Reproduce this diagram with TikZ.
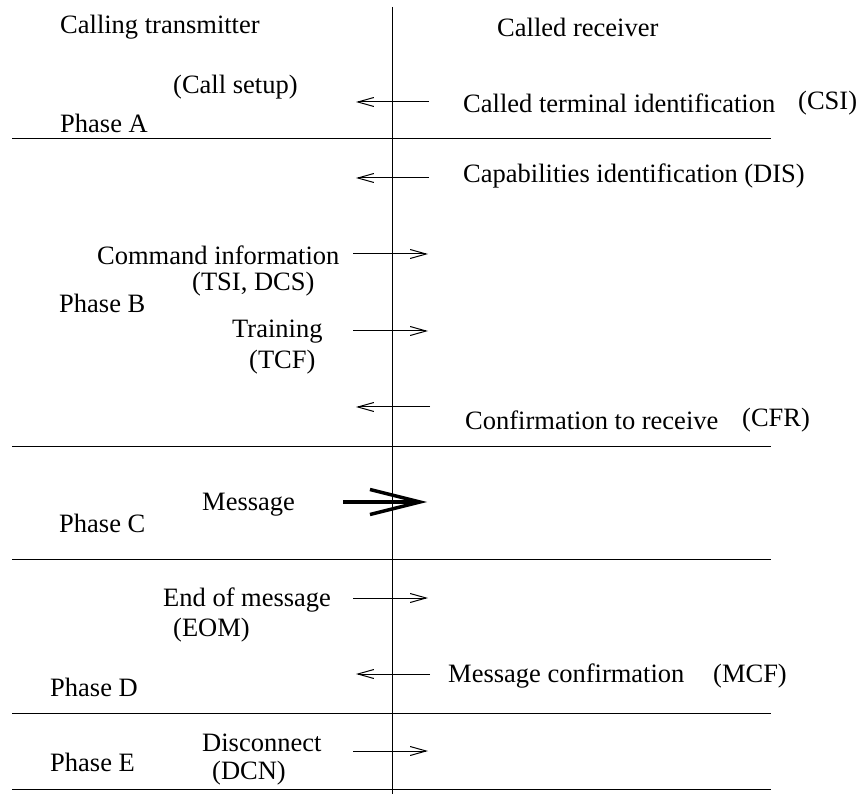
\documentclass[tikz,border=0pt]{standalone}
\usepackage{fontspec}
\setmainfont{Liberation Serif}
\usepackage{tikz}
\usetikzlibrary{arrows.meta,positioning}
\tikzset{
fax/.style={x=1pt,y=-1pt,font=\fontsize{26.5}{30}\selectfont},
lbl/.style={inner sep=0pt,anchor=west},
msg/.style={-{Straight Barb[length=16pt,width=9pt]},line width=1pt},
bigmsg/.style={-{Straight Barb[length=50pt,width=25pt]},line width=3.4pt},
rule/.style={line width=1pt},
}

\begin{document}
\begin{tikzpicture}[fax]
\useasboundingbox (0,0) rectangle (860,794);
% headings
\node[lbl] (tx) at (60,27) {Calling transmitter};
\node[lbl] (rx) at (497,27) {Called receiver};
% the time line
\coordinate (top) at (392,7);
\coordinate (bot) at (392,794);
\draw[rule] (top) -- (bot);
% phase borders
\coordinate (a1) at (12,139); \coordinate (a2) at (771,139);
\coordinate (b1) at (12,446); \coordinate (b2) at (771,446);
\coordinate (c1) at (12,559); \coordinate (c2) at (771,559);
\coordinate (d1) at (12,713); \coordinate (d2) at (771,713);
\coordinate (e1) at (12,789); \coordinate (e2) at (771,789);
\foreach \p in {a,b,c,d,e}
  \draw[rule] (\p1) -- (\p2);

% phase A
\node[lbl] (setup) at (173,87) {(Call setup)};
\node[lbl] (pa) at (60,123) {Phase A};
\node[lbl] (csi) at (463,103) {Called terminal identification};
\node[lbl] (csit) at (798,103) {(CSI)};
\coordinate (csiR) at (429,102); \coordinate (csiL) at (356,102);
\draw[msg] (csiR) -- (csiL);

% phase B
\node[lbl] (dis) at (463,176) {Capabilities identification (DIS)};
\coordinate (disR) at (429,178); \coordinate (disL) at (356,178);
\draw[msg] (disR) -- (disL);
\node[lbl] (cmd) at (97,255) {Command information};
\node[lbl] (dcs) at (192,284) {(TSI, DCS)};
\coordinate (cmdL) at (353,254); \coordinate (cmdR) at (428,254);
\draw[msg] (cmdL) -- (cmdR);
\node[lbl] (pb) at (59,303) {Phase B};
\node[lbl] (trn) at (232,332) {Training};
\node[lbl] (tcf) at (249,362) {(TCF)};
\coordinate (trnL) at (353,331); \coordinate (trnR) at (428,331);
\draw[msg] (trnL) -- (trnR);
\node[lbl] (cfr) at (465,420) {Confirmation to receive};
\node[lbl] (cfrt) at (742,420) {(CFR)};
\coordinate (cfrR) at (430,407); \coordinate (cfrL) at (356,407);
\draw[msg] (cfrR) -- (cfrL);

% phase C
\node[lbl] (mess) at (202,505) {Message};
\node[lbl] (pc) at (59,523) {Phase C};
\coordinate (messL) at (343,502); \coordinate (messR) at (427,502);
\draw[bigmsg] (messL) -- (messR);

% phase D
\node[lbl] (eom) at (163,600) {End of message};
\node[lbl] (eomt) at (173,630) {(EOM)};
\coordinate (eomL) at (353,598); \coordinate (eomR) at (428,598);
\draw[msg] (eomL) -- (eomR);
\node[lbl] (mcf) at (448,676) {Message confirmation};
\node[lbl] (mcft) at (713,676) {(MCF)};
\coordinate (mcfR) at (430,674); \coordinate (mcfL) at (356,674);
\draw[msg] (mcfR) -- (mcfL);
\node[lbl] (pd) at (50,687) {Phase D};

% phase E
\node[lbl] (dcn) at (202,743) {Disconnect};
\node[lbl] (dcnt) at (212,773) {(DCN)};
\node[lbl] (pe) at (50,762) {Phase E};
\coordinate (dcnL) at (353,751); \coordinate (dcnR) at (428,751);
\draw[msg] (dcnL) -- (dcnR);
\end{tikzpicture}
\end{document}
